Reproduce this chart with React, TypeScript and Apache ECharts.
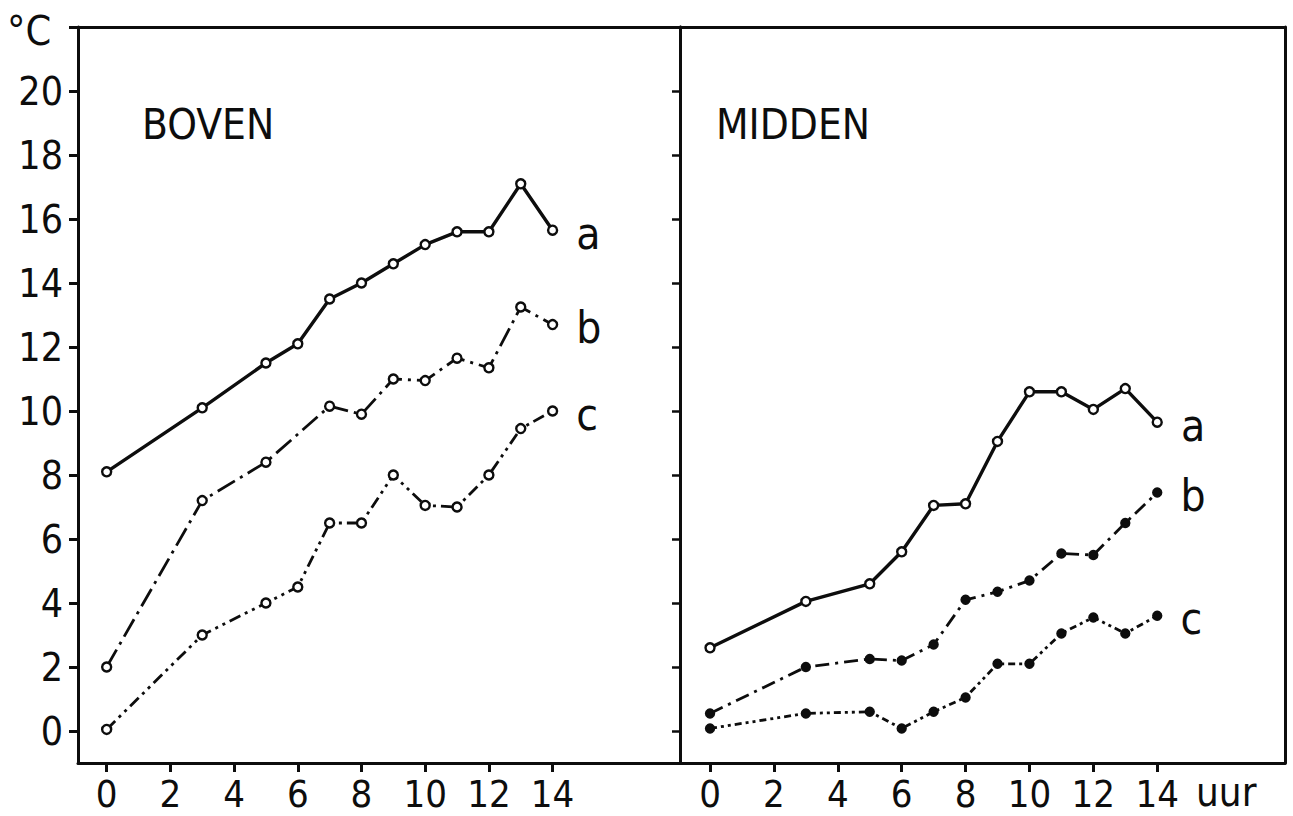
import React, { useEffect, useRef } from "react";
import * as echarts from "echarts";

// ---- data ----
const yTicks = [0, 2, 4, 6, 8, 10, 12, 14, 16, 18, 20, 22];
const yLabels = [0, 2, 4, 6, 8, 10, 12, 14, 16, 18, 20];
const xTicks = [0, 2, 4, 6, 8, 10, 12, 14];

// BOVEN
const hoursBovenA = [0, 3, 5, 6, 7, 8, 9, 10, 11, 12, 13, 14];
const bovenA = [8.1, 10.1, 11.5, 12.1, 13.5, 14.0, 14.6, 15.2, 15.6, 15.6, 17.1, 15.65];
const hoursBovenB = [0, 3, 5, 7, 8, 9, 10, 11, 12, 13, 14];
const bovenB = [2.0, 7.2, 8.4, 10.15, 9.9, 11.0, 10.95, 11.65, 11.35, 13.25, 12.7];
const hoursBovenC = [0, 3, 5, 6, 7, 8, 9, 10, 11, 12, 13, 14];
const bovenC = [0.05, 3.0, 4.0, 4.5, 6.5, 6.5, 8.0, 7.05, 7.0, 8.0, 9.45, 10.0];

// MIDDEN
const hoursMidden = [0, 3, 5, 6, 7, 8, 9, 10, 11, 12, 13, 14];
const middenA = [2.6, 4.05, 4.6, 5.6, 7.05, 7.1, 9.05, 10.6, 10.6, 10.05, 10.7, 9.65];
const middenB = [0.55, 2.0, 2.25, 2.2, 2.7, 4.1, 4.35, 4.7, 5.55, 5.5, 6.5, 7.45];
const middenC = [0.08, 0.55, 0.6, 0.08, 0.6, 1.05, 2.1, 2.1, 3.05, 3.55, 3.05, 3.6];

const seriesLetters = ["a", "b", "c"];
const panelTitles = ["BOVEN", "MIDDEN"];
const unitX = "uur";
const unitY = "°C";

const FONT = "'Liberation Sans Narrow', 'DejaVu Sans Condensed', 'Liberation Sans', sans-serif";
const INK = "#0d0d0d";

function mkData(xs: number[], ys: number[], letter: string) {
  return xs.map((x, i) =>
    i === xs.length - 1
      ? {
          value: [x, ys[i]],
          label: {
            show: true,
            formatter: letter,
            position: "right",
            distance: 18,
            fontSize: 44,
            color: INK,
            fontFamily: FONT,
            offset: [0, 3],
          },
        }
      : [x, ys[i]]
  );
}

function mkSeries(
  xs: number[],
  ys: number[],
  letter: string,
  grid: number,
  dash: any,
  width: number,
  filled: boolean
) {
  return {
    type: "line",
    xAxisIndex: grid === 0 ? 0 : 2,
    yAxisIndex: grid === 0 ? 0 : 2,
    data: mkData(xs, ys, letter),
    symbol: "circle",
    symbolSize: filled ? 8 : 9,
    showAllSymbol: true,
    lineStyle: { color: INK, width, type: dash },
    itemStyle: { color: filled ? INK : "#fff", borderColor: INK, borderWidth: 2.4 },
    z: 5,
  };
}

export default function App() {
  const ref = useRef<HTMLDivElement>(null);

  useEffect(() => {
    if (!ref.current) return;
    const chart = echarts.init(ref.current, undefined, { renderer: "svg" });

    const axisLine = { show: true, onZero: false, lineStyle: { color: INK, width: 3 } };

    const xBottom = (gridIndex: number, min: number) => ({
      type: "value",
      gridIndex,
      position: "bottom",
      min,
      max: 18,
      axisLine,
      splitLine: { show: false },
      axisTick: {
        show: true,
        length: 9,
        customValues: xTicks,
        lineStyle: { color: INK, width: 3 },
      },
      axisLabel: {
        show: true,
        customValues: xTicks,
        fontSize: 38,
        lineHeight: 38,
        fontFamily: FONT,
        color: INK,
        margin: 12,
      },
    });
    const xTop = (gridIndex: number, min: number) => ({
      type: "value",
      gridIndex,
      position: "top",
      min,
      max: 18,
      axisLine,
      splitLine: { show: false },
      axisTick: { show: false },
      axisLabel: { show: false },
    });

    const option: any = {
      animation: false,
      backgroundColor: "#fff",
      textStyle: { fontFamily: FONT },
      grid: [
        { left: 78, top: 27, width: 602, height: 736 },
        { left: 680, top: 27, width: 605, height: 736 },
      ],
      xAxis: [xBottom(0, -0.9), xTop(0, -0.9), xBottom(1, -0.94), xTop(1, -0.94)],
      yAxis: [
        {
          type: "value",
          gridIndex: 0,
          position: "left",
          min: -1,
          max: 22,
          axisLine,
          splitLine: { show: false },
          axisTick: {
            show: true,
            length: 9,
            customValues: yTicks,
            lineStyle: { color: INK, width: 3 },
          },
          axisLabel: {
            show: true,
            customValues: yLabels,
            fontSize: 39,
            fontFamily: FONT,
            color: INK,
            margin: 15,
          },
        },
        {
          type: "value",
          gridIndex: 0,
          position: "right",
          min: -1,
          max: 22,
          axisLine,
          splitLine: { show: false },
          axisTick: {
            show: true,
            inside: true,
            length: 8,
            customValues: yLabels,
            lineStyle: { color: INK, width: 2.5 },
          },
          axisLabel: { show: false },
        },
        {
          type: "value",
          gridIndex: 1,
          position: "left",
          min: -1,
          max: 22,
          axisLine,
          splitLine: { show: false },
          axisTick: { show: false },
          axisLabel: { show: false },
        },
        {
          type: "value",
          gridIndex: 1,
          position: "right",
          min: -1,
          max: 22,
          axisLine,
          splitLine: { show: false },
          axisTick: { show: false },
          axisLabel: { show: false },
        },
      ],
      series: [
        mkSeries(hoursBovenA, bovenA, seriesLetters[0], 0, "solid", 3.4, false),
        mkSeries(hoursBovenB, bovenB, seriesLetters[1], 0, [20, 6, 3, 6], 2.8, false),
        mkSeries(hoursBovenC, bovenC, seriesLetters[2], 0, [12, 5, 3, 5, 3, 5], 2.8, false),
        mkSeries(hoursMidden, middenA, seriesLetters[0], 1, "solid", 3.4, false),
        mkSeries(hoursMidden, middenB, seriesLetters[1], 1, [14, 6, 3, 6], 2.8, true),
        mkSeries(hoursMidden, middenC, seriesLetters[2], 1, [7, 4, 3, 4, 3, 4], 2.8, true),
      ],
      graphic: [
        {
          type: "text",
          left: 7,
          top: 10,
          style: { text: unitY, fontSize: 41, fontFamily: FONT, fill: INK },
        },
        {
          type: "text",
          left: 142,
          top: 103,
          style: { text: panelTitles[0], fontSize: 42, fontFamily: FONT, fill: INK },
        },
        {
          type: "text",
          left: 716,
          top: 103,
          style: { text: panelTitles[1], fontSize: 42, fontFamily: FONT, fill: INK },
        },
        {
          type: "text",
          left: 1196,
          top: 772,
          style: { text: unitX, fontSize: 40, lineHeight: 40, fontFamily: FONT, fill: INK },
        },
      ],
    };

    chart.setOption(option);
    return () => chart.dispose();
  }, []);

  return (
    <div
      ref={ref}
      style={{ position: "fixed", left: 0, top: 0, width: 1293, height: 816, background: "#fff" }}
    />
  );
}
